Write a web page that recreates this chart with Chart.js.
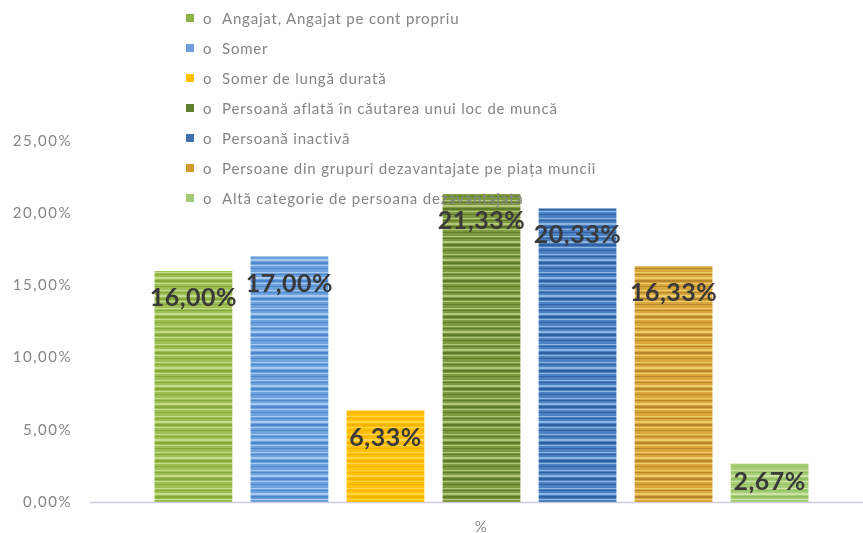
<!DOCTYPE html>
<html>
<head>
<meta charset="utf-8">
<script src="https://cdn.jsdelivr.net/npm/chart.js@4/dist/chart.umd.min.js"></script>
<style>
  html, body { margin: 0; padding: 0; background: #ffffff; overflow: hidden; }
  #wrap { position: relative; width: 863px; height: 533px; overflow: hidden; }
  #c { position: absolute; left: 0; top: 0; }
  #legend { position: absolute; left: 186px; top: 8px; font-family: Lato, "Open Sans", sans-serif; font-size: 15px; color: #858585; letter-spacing: 0.8px; }
  .row { height: 30px; display: flex; align-items: center; white-space: nowrap; position: relative; top: -5px; }
  .sw { width: 8px; height: 8px; display: inline-block; margin-right: 9px; }
  .bul { display: inline-block; width: 19px; }
</style>
</head>
<body>
<div id="wrap">
  <canvas id="c" width="863" height="539"></canvas>
  <div id="legend"></div>
</div>
<script>
// ---- data ----
const categories = ['%'];
const seriesNames = [
  'Angajat, Angajat pe cont propriu',
  'Somer',
  'Somer de lungă durată',
  'Persoană aflată în căutarea unui loc de muncă',
  'Persoană inactivă',
  'Persoane din grupuri dezavantajate pe piața muncii',
  'Altă categorie de persoana dezavantajata'
];
const seriesValues = [16.00, 17.00, 6.33, 21.33, 20.33, 16.33, 2.67];
const yTicks = [0, 5, 10, 15, 20, 25];

// ---- styles ----
const palettes = [
  ['#9dbf55', '#c5db8e', '#86aa3a'],
  ['#6ea2dc', '#a9caf0', '#4d87cf'],
  ['#ffc107', '#ffd54a', '#f5b400'],
  ['#7e9a3f', '#b4c77c', '#5f7a29'],
  ['#4b80c2', '#8fb6e2', '#2f609f'],
  ['#d9a63c', '#f0cd6c', '#b8872b'],
  ['#a8cf78', '#cbe3a6', '#93c060']
];
const swatches = ['#8db34a', '#6d9fdc', '#ffc000', '#5f7f2e', '#3e6fb0', '#d39a2c', '#a2ca72'];

function stripe(p) {
  const cv = document.createElement('canvas');
  cv.width = 4; cv.height = 18;
  const g = cv.getContext('2d');
  const seq = [0,0,1,0,2,0,0,1,1,0,2,2,0,1,0,0,2,0];
  seq.forEach((k, i) => { g.fillStyle = p[k]; g.fillRect(0, i, 4, 1); });
  return g.createPattern(cv, 'repeat');
}

const fmt = v => v.toFixed(2).replace('.', ',') + '%';

// legend (HTML)
const leg = document.getElementById('legend');
seriesNames.forEach((n, i) => {
  const r = document.createElement('div');
  r.className = 'row';
  r.innerHTML = '<span class="sw" style="background:' + swatches[i] + '"></span><span class="bul">o</span><span></span>';
  r.lastChild.textContent = n;
  leg.appendChild(r);
});

const labelPlugin = {
  id: 'valueLabels',
  afterDatasetsDraw(chart) {
    const ctx = chart.ctx;
    ctx.save();
    ctx.letterSpacing = '0.5px';
    ctx.font = 'bold 25px Lato, "Open Sans", sans-serif';
    ctx.fillStyle = '#3a3a3a';
    ctx.textAlign = 'center';
    ctx.textBaseline = 'middle';
    chart.data.datasets.forEach((ds, i) => {
      const bar = chart.getDatasetMeta(i).data[0];
      const y = Math.min(bar.y + 27, bar.base - 20);
      ctx.fillText(fmt(ds.data[0]), bar.x, y);
    });
    ctx.restore();
  }
};

const axisLinePlugin = {
  id: 'axisLine',
  beforeDatasetsDraw(chart) {
    const ctx = chart.ctx, a = chart.chartArea;
    ctx.save();
    ctx.strokeStyle = '#cfcbdc';
    ctx.lineWidth = 1.5;
    ctx.beginPath();
    ctx.moveTo(a.left - 10, a.bottom + 0.5);
    ctx.lineTo(chart.width, a.bottom + 0.5);
    ctx.stroke();
    ctx.restore();
  }
};

const spacingPlugin = {
  id: 'spacing',
  beforeUpdate(chart) { chart.ctx.letterSpacing = '1.5px'; },
  beforeDraw(chart) { chart.ctx.letterSpacing = '1.5px'; }
};

new Chart(document.getElementById('c'), {
  type: 'bar',
  data: {
    labels: categories,
    datasets: seriesNames.map((n, i) => ({
      label: n,
      data: [seriesValues[i]],
      backgroundColor: stripe(palettes[i]),
      borderWidth: 0,
      categoryPercentage: 0.881,
      barPercentage: 0.81
    }))
  },
  options: {
    responsive: false,
    animation: false,
    layout: { padding: { top: 141, left: 10, right: 0, bottom: 0 } },
    plugins: { legend: { display: false }, tooltip: { enabled: false } },
    scales: {
      x: {
        afterFit(s) { s.height = 32; },
        grid: { display: false, drawTicks: false },
        border: { display: false },
        ticks: { color: '#858585', padding: 16, font: { family: 'Lato, "Open Sans", sans-serif', size: 15 } }
      },
      y: {
        min: 0, max: 25,
        afterBuildTicks(s) { s.ticks = yTicks.map(v => ({ value: v })); },
        afterFit(s) { s.width = 90; },
        grid: { display: false, drawTicks: false },
        border: { display: false },
        ticks: {
          color: '#858585', padding: 28,
          font: { family: 'Lato, "Open Sans", sans-serif', size: 15 },
          callback: v => fmt(v)
        }
      }
    }
  },
  plugins: [spacingPlugin, axisLinePlugin, labelPlugin]
});
</script>
</body>
</html>
